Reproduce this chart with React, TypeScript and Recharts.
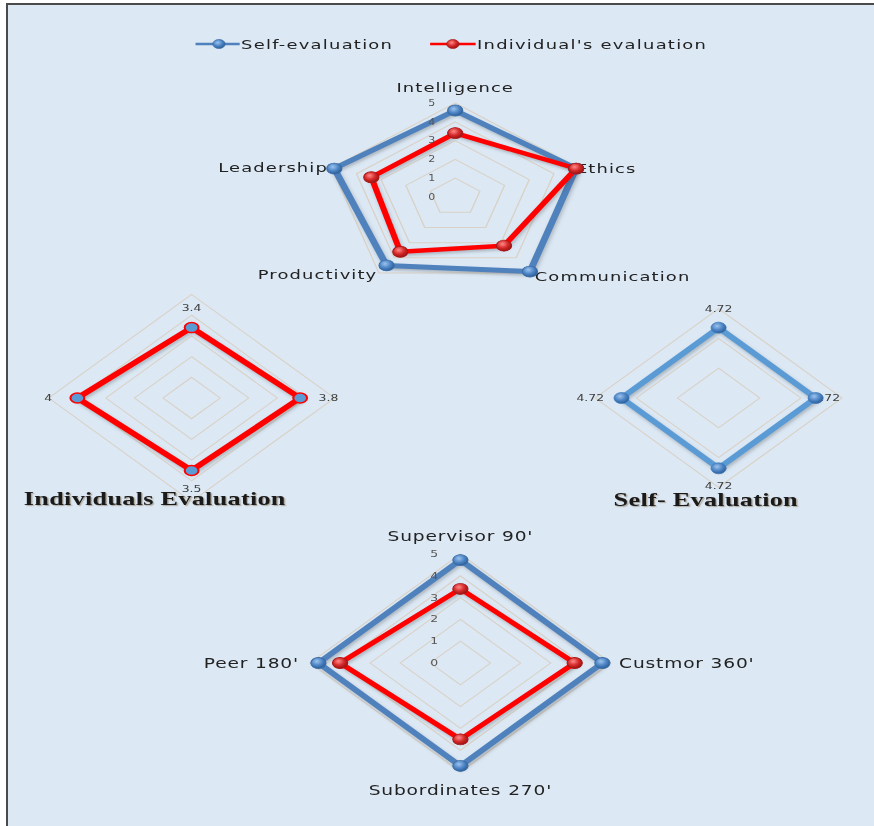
import React from 'react';
import { PolarAngleAxis, PolarGrid, PolarRadiusAxis, Radar, RadarChart } from 'recharts';

// the source picture is stretched sideways, so every chart is drawn narrow and widened
const STRETCH = 1.38;

const skillAxes = ['Intelligence', 'Ethics', 'Communication', 'Productivity', 'Leadership'];
const skillSelf = [4.6, 4.9, 4.9, 4.5, 4.9];
const skillIndividual = [3.4, 4.9, 3.2, 3.6, 3.4];

const raterAxes = ["Supervisor 90'", "Custmor 360'", "Subordinates 270'", "Peer 180'"];
const raterSelf = [4.72, 4.72, 4.72, 4.72];
const raterIndividual = [3.4, 3.8, 3.5, 4];

const seriesNames = ['Self-evaluation', "Individual's evaluation"];
const panelTitles = ['Individuals Evaluation', 'Self- Evaluation'];

const COLORS = {
  bg: '#dce9f5',
  border: '#4a4a4a',
  grid: '#d9d1c6',
  self: '#4f81bd',
  selfLight: '#5b9bd5',
  individual: '#ff0000',
  text: '#222222',
  tick: '#555555',
};

const FONT = '"DejaVu Sans", Verdana, sans-serif';

const skillData = skillAxes.map((axis, i) => ({
  axis,
  self: skillSelf[i],
  individual: skillIndividual[i],
}));

const raterData = raterAxes.map((axis, i) => ({
  axis,
  self: raterSelf[i],
  individual: raterIndividual[i],
}));

function angleTick(
  axes: string[],
  labels: string[],
  cx: number,
  cy: number,
  radii: number[],
  fontSize: number,
  color: string,
  spacing: number
) {
  return (props: any) => {
    const i = axes.indexOf(props.payload?.value);
    if (i < 0) return <g />;
    const angle = 90 - (360 / axes.length) * i;
    const rad = (angle * Math.PI) / 180;
    const cos = Math.cos(rad);
    const x = cx + radii[i] * cos;
    const y = cy - radii[i] * Math.sin(rad);
    const anchor = Math.abs(cos) < 0.01 ? 'middle' : cos > 0 ? 'start' : 'end';
    return (
      <text
        x={x}
        y={y}
        textAnchor={anchor}
        dominantBaseline="central"
        fontSize={fontSize}
        fontFamily={FONT}
        letterSpacing={spacing}
        fill={color}
      >
        {labels[i]}
      </text>
    );
  };
}

function radiusTick(offset: number, fontSize: number) {
  return (props: any) => (
    <text
      x={props.x - offset}
      y={props.y}
      textAnchor="middle"
      dominantBaseline="central"
      fontSize={fontSize}
      fontFamily={FONT}
      fill={COLORS.tick}
    >
      {props.payload?.value}
    </text>
  );
}

function makeDot(r: number, fill: string, stroke: string, strokeWidth: number) {
  return (props: any) => (
    <circle
      key={`dot-${props.index}`}
      cx={props.cx}
      cy={props.cy}
      r={r}
      fill={fill}
      stroke={stroke}
      strokeWidth={strokeWidth}
    />
  );
}

function Stretched({ x, top, cx, children }: { x: number; top: number; cx: number; children: React.ReactNode }) {
  return (
    <div
      style={{
        position: 'absolute',
        left: x - STRETCH * cx,
        top,
        transform: `scaleX(${STRETCH})`,
        transformOrigin: '0 0',
      }}
    >
      {children}
    </div>
  );
}

const blueDot = makeDot(5.5, 'url(#ballBlue)', '#3b6da6', 0.8);
const redDot = makeDot(5.5, 'url(#ballRed)', '#a81818', 0.8);

function SkillsRadar() {
  const w = 380;
  const h = 250;
  const cx = 190;
  const cy = 125;
  return (
    <Stretched x={455} top={72} cx={cx}>
      <RadarChart width={w} height={h} cx={cx} cy={cy} outerRadius={94} data={skillData} margin={{ top: 0, right: 0, bottom: 0, left: 0 }}>
        <PolarGrid gridType="polygon" radialLines={false} stroke={COLORS.grid} />
        <PolarAngleAxis
          dataKey="axis"
          axisLine={false}
          tickLine={false}
          tick={angleTick(skillAxes, skillAxes, cx, cy, [110, 92, 98, 96, 97], 13, COLORS.text, 0.8)}
        />
        <PolarRadiusAxis
          angle={90}
          domain={[0, 5]}
          tickCount={6}
          axisLine={false}
          tickLine={false}
          tick={radiusTick(17, 8)}
        />
        <Radar
          dataKey="self"
          name={seriesNames[0]}
          stroke={COLORS.self}
          strokeWidth={5}
          strokeLinejoin="round"
          fill="none"
          fillOpacity={0}
          dot={blueDot}
          isAnimationActive={false}
        />
        <Radar
          dataKey="individual"
          name={seriesNames[1]}
          stroke={COLORS.individual}
          strokeWidth={4.5}
          strokeLinejoin="round"
          fill="none"
          fillOpacity={0}
          dot={redDot}
          isAnimationActive={false}
        />
      </RadarChart>
    </Stretched>
  );
}

function RatersRadar() {
  const w = 460;
  const h = 290;
  const cx = 230;
  const cy = 145;
  return (
    <Stretched x={460} top={518} cx={cx}>
      <RadarChart width={w} height={h} cx={cx} cy={cy} outerRadius={109} data={raterData} margin={{ top: 0, right: 0, bottom: 0, left: 0 }}>
        <PolarGrid gridType="polygon" radialLines={false} stroke={COLORS.grid} />
        <PolarAngleAxis
          dataKey="axis"
          axisLine={false}
          tickLine={false}
          tick={angleTick(raterAxes, raterAxes, cx, cy, [127, 115, 127, 117], 13.5, COLORS.text, 0.6)}
        />
        <PolarRadiusAxis
          angle={90}
          domain={[0, 5]}
          tickCount={6}
          axisLine={false}
          tickLine={false}
          tick={radiusTick(19, 9)}
        />
        <Radar
          dataKey="self"
          name={seriesNames[0]}
          stroke={COLORS.self}
          strokeWidth={5}
          strokeLinejoin="round"
          fill="none"
          fillOpacity={0}
          dot={blueDot}
          isAnimationActive={false}
        />
        <Radar
          dataKey="individual"
          name={seriesNames[1]}
          stroke={COLORS.individual}
          strokeWidth={4.5}
          strokeLinejoin="round"
          fill="none"
          fillOpacity={0}
          dot={redDot}
          isAnimationActive={false}
        />
      </RadarChart>
    </Stretched>
  );
}

function SingleRadar({
  x,
  values,
  max,
  tickCount,
  outerRadius,
  labelRadii,
  stroke,
  dot,
}: {
  x: number;
  values: number[];
  max: number;
  tickCount: number;
  outerRadius: number;
  labelRadii: number[];
  stroke: string;
  dot: any;
}) {
  const w = 240;
  const h = 230;
  const cx = 120;
  const cy = 115;
  const data = raterAxes.map((axis, i) => ({ axis, value: values[i] }));
  const labels = values.map((v) => String(v));
  return (
    <Stretched x={x} top={283} cx={cx}>
      <RadarChart width={w} height={h} cx={cx} cy={cy} outerRadius={outerRadius} data={data} margin={{ top: 0, right: 0, bottom: 0, left: 0 }}>
        <PolarGrid gridType="polygon" radialLines={false} stroke={COLORS.grid} />
        <PolarAngleAxis
          dataKey="axis"
          axisLine={false}
          tickLine={false}
          tick={angleTick(raterAxes, labels, cx, cy, labelRadii, 9, '#404040', 0)}
        />
        <PolarRadiusAxis angle={90} domain={[0, max]} tickCount={tickCount} axisLine={false} tickLine={false} tick={false} />
        <Radar
          dataKey="value"
          stroke={stroke}
          strokeWidth={5}
          strokeLinejoin="round"
          fill="none"
          fillOpacity={0}
          dot={dot}
          isAnimationActive={false}
        />
      </RadarChart>
    </Stretched>
  );
}

function Title({ x, top, text }: { x: number; top: number; text: string }) {
  const w = 220;
  return (
    <div
      style={{
        position: 'absolute',
        left: x - (STRETCH * w) / 2,
        top,
        width: w,
        transform: `scaleX(${STRETCH})`,
        transformOrigin: '0 0',
        textAlign: 'center',
        fontFamily: '"Liberation Serif", "DejaVu Serif", serif',
        fontSize: 19,
        fontWeight: 600,
        letterSpacing: 0.2,
        lineHeight: '22px',
        color: '#1a1a1a',
        textShadow: '1px 1px 1px rgba(110, 80, 40, 0.45)',
        whiteSpace: 'nowrap',
      }}
    >
      {text}
    </div>
  );
}

function LegendBar() {
  return (
    <Stretched x={190} top={34} cx={0}>
      <svg width={400} height={20} style={{ display: 'block' }}>
        <line x1={4} y1={10} x2={36} y2={10} stroke={COLORS.self} strokeWidth={2.5} />
        <circle cx={21} cy={10} r={4.5} fill="url(#ballBlue)" stroke="#3b6da6" strokeWidth={0.6} />
        <text x={37} y={10} dominantBaseline="central" fontSize={13} fontFamily={FONT} letterSpacing={0.9} fill={COLORS.text}>
          {seriesNames[0]}
        </text>
        <line x1={174} y1={10} x2={207} y2={10} stroke={COLORS.individual} strokeWidth={2.5} />
        <circle cx={190.5} cy={10} r={4.5} fill="url(#ballRed)" stroke="#a81818" strokeWidth={0.6} />
        <text x={208} y={10} dominantBaseline="central" fontSize={13} fontFamily={FONT} letterSpacing={0.9} fill={COLORS.text}>
          {seriesNames[1]}
        </text>
      </svg>
    </Stretched>
  );
}

export default function App() {
  return (
    <div
      style={{
        position: 'absolute',
        left: 0,
        top: 0,
        width: 874,
        height: 826,
        overflow: 'hidden',
        background: '#ffffff',
        fontFamily: FONT,
      }}
    >
      <style>{'.recharts-radar-polygon { filter: drop-shadow(1px 2px 1.5px rgba(60, 60, 60, 0.3)); }'}</style>
      <svg width={0} height={0} style={{ position: 'absolute' }}>
        <defs>
          <radialGradient id="ballBlue" cx="40%" cy="35%" r="65%">
            <stop offset="0%" stopColor="#9cc3ee" />
            <stop offset="55%" stopColor="#4f86c6" />
            <stop offset="100%" stopColor="#2c5f99" />
          </radialGradient>
          <radialGradient id="ballRed" cx="40%" cy="35%" r="65%">
            <stop offset="0%" stopColor="#ff8a8a" />
            <stop offset="55%" stopColor="#d62a2a" />
            <stop offset="100%" stopColor="#9c1212" />
          </radialGradient>
        </defs>
      </svg>
      <div
        style={{
          position: 'absolute',
          left: 6,
          top: 3,
          right: 0,
          bottom: 0,
          background: COLORS.bg,
          borderTop: `2px solid ${COLORS.border}`,
          borderLeft: `2px solid ${COLORS.border}`,
        }}
      />
      <LegendBar />
      <SkillsRadar />
      <SingleRadar
        x={191.5}
        values={raterIndividual}
        max={5}
        tickCount={6}
        outerRadius={103.5}
        labelRadii={[90, 92, 91, 101]}
        stroke={COLORS.individual}
        dot={makeDot(5, COLORS.selfLight, COLORS.individual, 1.5)}
      />
      <SingleRadar
        x={719}
        values={raterSelf}
        max={6}
        tickCount={4}
        outerRadius={89.4}
        labelRadii={[89, 68, 88, 83]}
        stroke={COLORS.selfLight}
        dot={makeDot(5.5, 'url(#ballBlue)', '#3b78b8', 0.6)}
      />
      <Title x={155} top={488} text={panelTitles[0]} />
      <Title x={706} top={489} text={panelTitles[1]} />
      <RatersRadar />
    </div>
  );
}
